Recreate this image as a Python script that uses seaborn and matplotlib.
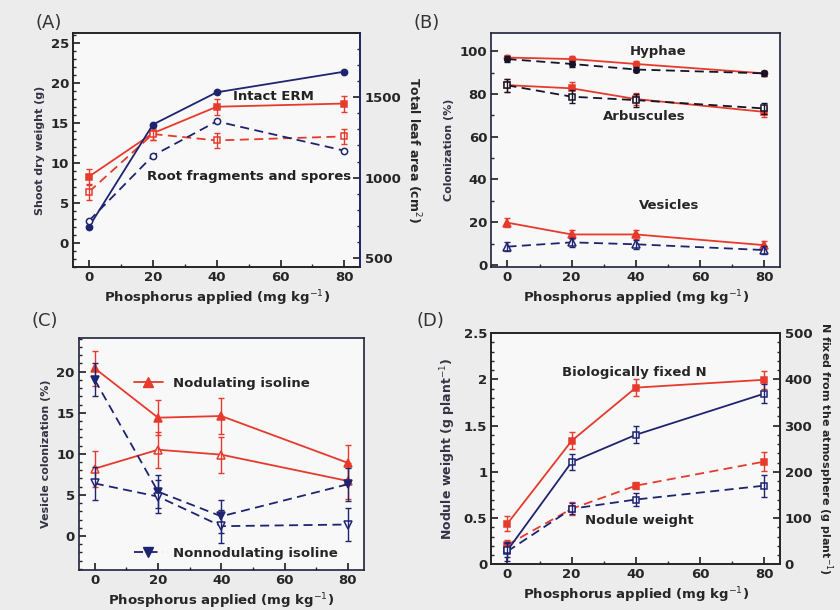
import matplotlib
matplotlib.use("Agg")
import matplotlib.pyplot as plt
import seaborn as sns
from matplotlib.ticker import AutoMinorLocator
from matplotlib.lines import Line2D

sns.set_theme(style="ticks")
plt.rcParams['font.family'] = ['DejaVu Sans']

RED = "#e63b2c"
NAVY = "#1e2470"
DARK = "#22223a"

# phosphorus levels (mg kg-1)
phos = [0, 20, 40, 80]

# (A) shoot dry weight (g), left axis
shoot_intact = [8.3, 13.7, 17.0, 17.4]
shoot_intact_err = [1.0, 0.9, 1.0, 1.0]
shoot_frag = [6.4, 13.6, 12.8, 13.3]
shoot_frag_err = [1.0, 0.8, 0.9, 0.9]
# (A) total leaf area (cm2), right axis
leaf_intact = [696, 1329, 1529, 1657]
leaf_frag = [733, 1136, 1349, 1167]

# (B) colonization (%)
hyph_nod = [97.0, 96.3, 94.0, 89.6]
hyph_non = [96.3, 94.0, 91.4, 89.6]
hyph_err = [1.2, 1.2, 1.2, 1.0]
arb_nod = [84.1, 82.6, 77.6, 71.6]
arb_non = [84.0, 78.7, 77.1, 73.2]
arb_err = [3.0, 3.0, 3.0, 2.5]
ves_nod = [19.8, 14.3, 14.3, 9.3]
ves_non = [8.6, 10.6, 9.7, 7.0]
ves_err = [2.0, 2.0, 2.0, 2.0]

# (C) vesicle colonization (%)
c_nod_a = [20.4, 14.4, 14.6, 8.9]
c_nod_a_err = [2.1, 2.1, 2.2, 2.2]
c_nod_b = [8.2, 10.5, 9.9, 6.7]
c_nod_b_err = [2.2, 2.2, 2.2, 2.2]
c_non_a = [19.0, 5.4, 2.4, 6.3]
c_non_a_err = [2.0, 2.0, 2.0, 2.0]
c_non_b = [6.4, 4.8, 1.2, 1.4]
c_non_b_err = [2.0, 2.0, 2.0, 2.0]

# (D) N fixed (g plant-1), right axis
nfix_a = [88, 267, 382, 399]
nfix_a_err = [16, 18, 18, 20]
nfix_b = [30, 221, 280, 369]
nfix_b_err = [15, 18, 18, 20]
# (D) nodule weight (g plant-1), left axis
nod_a = [0.21, 0.60, 0.85, 1.11]
nod_a_err = [0.05, 0.07, 0.04, 0.10]
nod_b = [0.14, 0.60, 0.70, 0.85]
nod_b_err = [0.10, 0.06, 0.07, 0.12]

DASH = (0, (5, 3))
XLABEL = "Phosphorus applied (mg kg$^{-1}$)"


def series(ax, y, color, marker, ls="-", filled=True, err=None, ms=5):
    sns.lineplot(x=phos, y=y, ax=ax, color=color, marker=marker, linestyle=ls,
                 linewidth=1.3, markersize=ms,
                 markerfacecolor=color if filled else "white",
                 markeredgecolor=color, markeredgewidth=1.1, errorbar=None)
    if err is not None:
        ax.errorbar(phos, y, yerr=err, fmt="none", ecolor=color,
                    elinewidth=1.0, capsize=2.5, capthick=1.0)


def ticks(ax, axis="both"):
    ax.tick_params(axis=axis, direction="in", which="both", labelsize=9.5, pad=3)
    ax.tick_params(axis=axis, which="major", length=5)
    ax.tick_params(axis=axis, which="minor", length=2.5)


def style(ax, ylabel, ysize=8):
    ax.set_xlim(-5, 85)
    ax.set_xticks([0, 20, 40, 60, 80])
    ax.xaxis.set_minor_locator(AutoMinorLocator(2))
    ax.yaxis.set_minor_locator(AutoMinorLocator(5))
    ticks(ax)
    for lab in ax.get_xticklabels() + ax.get_yticklabels():
        lab.set_fontweight("bold")
    ax.set_facecolor("#f8f8f8")
    for sp in ax.spines.values():
        sp.set_visible(True)
        sp.set_color(DARK)
        sp.set_linewidth(1.2)
    ax.set_xlabel(XLABEL, fontsize=9.5, fontweight="bold", labelpad=3)
    ax.set_ylabel(ylabel, fontsize=ysize, fontweight="bold", color="#333344")


fig = plt.figure(figsize=(8.4, 6.1), dpi=100)
fig.patch.set_facecolor("#ececec")

# ---- (A)
axA = fig.add_axes([0.087, 0.562, 0.342, 0.384])
axA2 = axA.twinx()
series(axA2, leaf_intact, NAVY, "o", ms=4.5)
series(axA2, leaf_frag, NAVY, "o", DASH, filled=False, ms=4.5)
series(axA, shoot_intact, RED, "s", err=shoot_intact_err)
series(axA, shoot_frag, RED, "s", DASH, filled=False, err=shoot_frag_err)
axA.set_ylim(-3, 26.2)
axA.set_yticks([0, 5, 10, 15, 20, 25])
axA2.set_ylim(445, 1897)
axA2.set_yticks([500, 1000, 1500])
style(axA, "Shoot dry weight (g)")
axA2.yaxis.set_minor_locator(AutoMinorLocator(5))
ticks(axA2, "y")
for lab in axA2.get_yticklabels():
    lab.set_fontweight("bold")
axA2.set_ylabel("Total leaf area (cm$^{2}$)", fontsize=9, fontweight="bold",
                rotation=270, labelpad=15)
axA2.spines["right"].set_color(NAVY)
axA.text(45, 18.3, "Intact ERM", fontsize=9.5, fontweight="bold",
         va="center", color="#222222")
axA.text(18.3, 8.3, "Root fragments and spores", fontsize=9.5,
         fontweight="bold", va="center", color="#222222")

# ---- (B)
axB = fig.add_axes([0.585, 0.562, 0.344, 0.384])
series(axB, hyph_nod, RED, "o", err=hyph_err, ms=4.5)
series(axB, hyph_non, "#15152a", "o", DASH, err=hyph_err, ms=4)
series(axB, arb_nod, RED, "s", err=arb_err, ms=4.5)
series(axB, arb_non, "#15152a", "s", DASH, filled=False, err=arb_err, ms=4.5)
series(axB, ves_nod, RED, "^", err=ves_err, ms=5.5)
series(axB, ves_non, NAVY, "^", DASH, filled=False, err=ves_err, ms=5.5)
axB.set_ylim(-1, 108.5)
axB.set_yticks([0, 20, 40, 60, 80, 100])
style(axB, "Colonization (%)")
axB.yaxis.set_minor_locator(AutoMinorLocator(2))
axB.text(47, 99.7, "Hyphae", fontsize=9.5, fontweight="bold", ha="center", va="center")
axB.text(42.5, 69.3, "Arbuscules", fontsize=9.5, fontweight="bold", ha="center", va="center")
axB.text(50.5, 28, "Vesicles", fontsize=9.5, fontweight="bold", ha="center", va="center")

# ---- (C)
axC = fig.add_axes([0.094, 0.066, 0.339, 0.380])
series(axC, c_nod_a, RED, "^", err=c_nod_a_err, ms=6)
series(axC, c_nod_b, RED, "^", filled=False, err=c_nod_b_err, ms=6)
series(axC, c_non_a, NAVY, "v", DASH, err=c_non_a_err, ms=6)
series(axC, c_non_b, NAVY, "v", DASH, filled=False, err=c_non_b_err, ms=6)
axC.set_ylim(-4.1, 24.1)
axC.set_yticks([0, 5, 10, 15, 20])
style(axC, "Vesicle colonization (%)")
h_nod = Line2D([], [], color=RED, marker="^", markersize=7, linewidth=1.3)
h_non = Line2D([], [], color=NAVY, marker="v", markersize=7, linewidth=1.3,
               linestyle=DASH)
leg1 = axC.legend([h_nod], ["Nodulating isoline"], loc="center left",
                  bbox_to_anchor=(0.15, 0.805), frameon=False, handlelength=2.2,
                  prop={"weight": "bold", "size": 9.5})
axC.add_artist(leg1)
axC.legend([h_non], ["Nonnodulating isoline"], loc="center left",
           bbox_to_anchor=(0.15, 0.07), frameon=False, handlelength=2.2,
           prop={"weight": "bold", "size": 9.5})

# ---- (D)
axD = fig.add_axes([0.585, 0.075, 0.344, 0.379])
axD2 = axD.twinx()
series(axD2, nfix_a, RED, "s", err=nfix_a_err)
series(axD2, nfix_b, NAVY, "s", filled=False, err=nfix_b_err)
series(axD, nod_a, RED, "s", DASH, err=nod_a_err)
series(axD, nod_b, NAVY, "s", DASH, filled=False, err=nod_b_err)
axD.set_ylim(0, 2.5)
axD.set_yticks([0, 0.5, 1, 1.5, 2, 2.5])
axD.set_yticklabels(["0", "0.5", "1", "1.5", "2", "2.5"])
axD2.set_ylim(0, 500)
axD2.set_yticks([0, 100, 200, 300, 400, 500])
style(axD, "Nodule weight (g plant$^{-1}$)", ysize=9)
axD2.yaxis.set_minor_locator(AutoMinorLocator(5))
ticks(axD2, "y")
for lab in axD2.get_yticklabels():
    lab.set_fontweight("bold")
axD2.set_ylabel("N fixed from the atmosphere (g plant$^{-1}$)", fontsize=8,
                fontweight="bold", rotation=270, labelpad=16)
axD.text(39.5, 2.07, "Biologically fixed N", fontsize=9.5, fontweight="bold",
         ha="center", va="center")
axD.text(41, 0.476, "Nodule weight", fontsize=9.5, fontweight="bold",
         ha="center", va="center")

# panel letters
for lbl, xx, yy in [("(A)", 0.042, 0.962), ("(B)", 0.492, 0.962),
                    ("(C)", 0.038, 0.474), ("(D)", 0.496, 0.474)]:
    fig.text(xx, yy, lbl, fontsize=13, ha="left", va="center", color="#333333")

fig.savefig("out.png", dpi=100, facecolor=fig.get_facecolor())
